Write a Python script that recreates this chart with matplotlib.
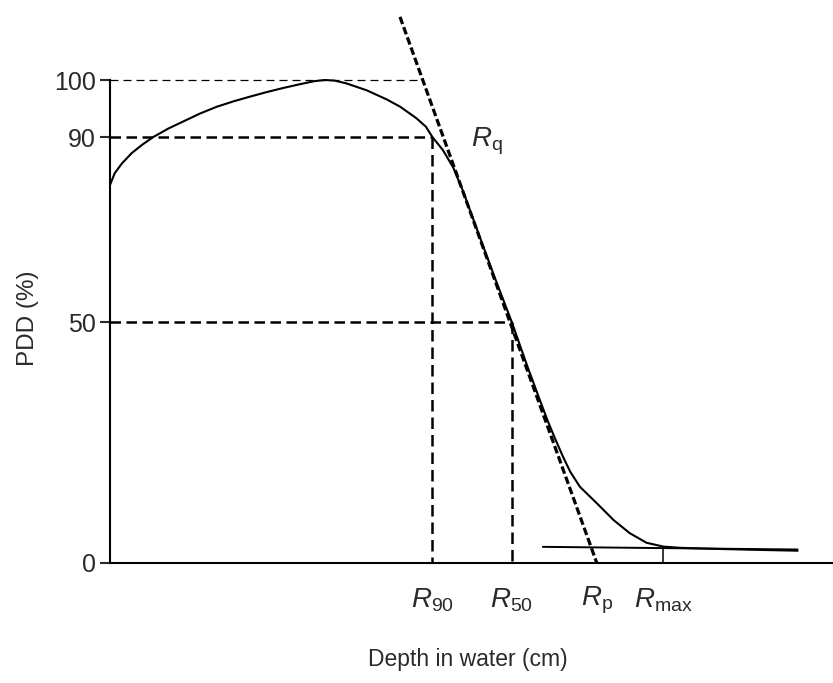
import matplotlib
matplotlib.use('Agg')
import numpy as np
import matplotlib.pyplot as plt

plt.rcParams['font.family'] = 'Liberation Sans'
plt.rcParams['mathtext.fontset'] = 'custom'
plt.rcParams['mathtext.rm'] = 'Liberation Sans'
plt.rcParams['mathtext.it'] = 'Liberation Sans:italic'

# depth dose curve (cm, %)
depth = [0.0, 0.06, 0.15, 0.27, 0.40, 0.54, 0.73, 0.91, 1.12, 1.33, 1.55,
         1.75, 1.96, 2.16, 2.38, 2.55, 2.68, 2.8, 2.95, 3.2, 3.45, 3.62,
         3.82, 3.94, 4.02, 4.15, 4.28, 4.4, 4.6, 4.8, 5.01, 5.2, 5.36,
         5.46, 5.55, 5.65, 5.74, 5.86, 6.07, 6.28, 6.48, 6.69, 6.9, 7.11,
         7.5, 8.0, 8.57]
pdd = [79.6, 82.2, 84.3, 86.5, 88.3, 90.0, 91.5, 92.7, 94.1, 95.3, 96.3,
       97.1, 97.9, 98.6, 99.3, 99.8, 100.0, 99.9, 99.4, 98.2, 96.6, 95.3,
       93.3, 91.8, 90.0, 87.2, 83.4, 78.4, 68.9, 59.5, 50.0, 41.0, 33.8,
       29.4, 25.8, 22.0, 18.9, 15.8, 12.4, 8.9, 6.2, 4.2, 3.4, 3.15,
       2.95, 2.75, 2.55]

# characteristic depths (cm)
R90 = 4.02
R50 = 5.01
Rp = 6.07
Rmax = 6.90

# extrapolated tangent (top end, practical range)
tan_x = [3.616, Rp]
tan_y = [113.1, 0.0]

# bremsstrahlung background line
tail_x = [5.4, 8.57]
tail_y = [3.35, 2.8]

# dose axis is drawn schematically: uneven spacing between labelled levels
lev_val = [-200, 0, 50, 90, 100, 300]
lev_pos = [-964, 0, 241, 426, 483, 483 + 200 * 4.82]


def fwd(v):
    return np.interp(v, lev_val, lev_pos)


def inv(p):
    return np.interp(p, lev_pos, lev_val)


fig = plt.figure(figsize=(8.33, 6.83), dpi=100)
ax = fig.add_axes([0.132, 0.1757, 0.868, 0.8243])
ax.set_yscale('function', functions=(fwd, inv))

ax.plot(depth, pdd, color='black', lw=1.5, solid_joinstyle='round')
ax.plot(tan_x, tan_y, color='black', lw=2.3, ls=(0, (2.4, 1.0)))
ax.plot(tail_x, tail_y, color='black', lw=1.4)
ax.plot([Rmax, Rmax], [0, 3.2], color='black', lw=1.1)

# reference levels
ax.plot([0, 3.89], [100, 100], color='black', lw=0.9, ls=(0, (6.4, 4)))
ax.plot([0, R90], [90, 90], color='black', lw=1.8, ls=(0, (4.2, 2.2)))
ax.plot([R90, R90], [90, 0], color='black', lw=1.8, ls=(0, (4.6, 2.4)))
ax.plot([0, R50], [50, 50], color='black', lw=1.8, ls=(0, (4.2, 2.2)))
ax.plot([R50, R50], [50, 0], color='black', lw=1.8, ls=(0, (4.6, 2.4)))

ax.set_xlim(0, 9.015)
ax.set_ylim(0, 116.6)
ax.set_yticks([0, 50, 90, 100])
ax.set_yticklabels(['0', '50', '90', '100'])
ax.minorticks_off()
ax.set_xticks([])
ax.tick_params(axis='y', direction='out', length=7, width=1.5,
               labelsize=18, colors='#2a2a2a', pad=3)
ax.spines['left'].set_bounds(0, 100)
ax.spines['left'].set_linewidth(1.5)
ax.spines['bottom'].set_linewidth(1.5)
ax.spines['top'].set_visible(False)
ax.spines['right'].set_visible(False)

lab = dict(fontsize=20, color='#2a2a2a', ha='center', va='center')
ax.text(R90, -7.7, r'$R_{\mathrm{90}}$', **lab)
ax.text(R50, -7.7, r'$R_{\mathrm{50}}$', **lab)
ax.text(Rp, -7.7, r'$R_{\mathrm{p}}$', **lab)
ax.text(Rmax, -7.7, r'$R_{\mathrm{max}}$', **lab)
ax.text(4.70, 89.0, r'$R_{\mathrm{q}}$', **lab)

fig.text(0.562, 0.034, 'Depth in water (cm)', fontsize=16.5, color='#2a2a2a',
         ha='center', va='center')
fig.text(0.034, 0.534, 'PDD (%)', fontsize=17.5, color='#2a2a2a',
         ha='center', va='center', rotation=90)

fig.savefig('out.png', dpi=100)
